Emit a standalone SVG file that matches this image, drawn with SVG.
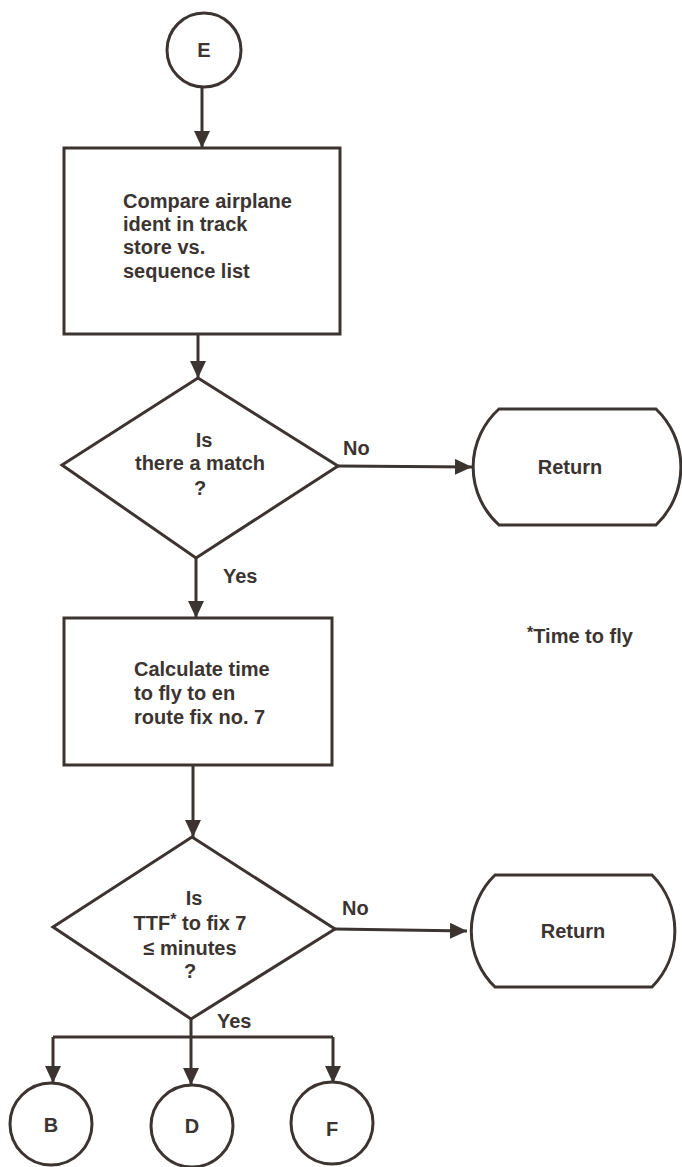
<svg xmlns="http://www.w3.org/2000/svg" width="682" height="1167" viewBox="0 0 682 1167">
  <style>
    .shape { fill: #ffffff; stroke: #3b3431; stroke-width: 3; }
    .wire { fill: none; stroke: #3b3431; stroke-width: 3; }
    text { font-family: "Liberation Sans", Arial, sans-serif; font-weight: bold; font-size: 20px; fill: #3b3431; }
    .mid { text-anchor: middle; }
    .sup { font-size: 16px; }
  </style>
  <defs>
    <marker id="arrow" markerUnits="userSpaceOnUse" markerWidth="18" markerHeight="16" refX="17" refY="8" orient="auto">
      <path d="M0,0 L17,8 L0,16 z" fill="#3b3431"/>
    </marker>
  </defs>
  <rect width="682" height="1167" fill="#ffffff"/>

  <g id="connectors">
    <line class="wire" x1="202" y1="87" x2="202" y2="148" marker-end="url(#arrow)"/>
    <line class="wire" x1="198" y1="334" x2="198" y2="378" marker-end="url(#arrow)"/>
    <line class="wire" x1="338" y1="466" x2="472" y2="467" marker-end="url(#arrow)"/>
    <line class="wire" x1="196" y1="558" x2="196" y2="618" marker-end="url(#arrow)"/>
    <line class="wire" x1="193" y1="765" x2="193" y2="837" marker-end="url(#arrow)"/>
    <line class="wire" x1="335" y1="929" x2="467" y2="931" marker-end="url(#arrow)"/>
    <path class="wire" d="M191,1019 L191,1037 M53,1037 L333,1037"/>
    <line class="wire" x1="53" y1="1037" x2="53" y2="1083" marker-end="url(#arrow)"/>
    <line class="wire" x1="191" y1="1037" x2="191" y2="1085" marker-end="url(#arrow)"/>
    <line class="wire" x1="333" y1="1037" x2="333" y2="1083" marker-end="url(#arrow)"/>
    <text x="343" y="455">No</text>
    <text x="223" y="583">Yes</text>
    <text x="342" y="915">No</text>
    <text x="217" y="1028">Yes</text>
  </g>

  <g id="node-e">
    <circle class="shape" cx="204" cy="50" r="37"/>
    <text class="mid" x="204" y="57">E</text>
  </g>

  <g id="node-compare">
    <rect class="shape" x="64" y="148" width="276" height="186"/>
    <text x="123" y="208">Compare airplane</text>
    <text x="123" y="231">ident in track</text>
    <text x="123" y="254">store vs.</text>
    <text x="123" y="278">sequence list</text>
  </g>

  <g id="node-match">
    <polygon class="shape" points="198,378 338,466 196,558 62,465"/>
    <text class="mid" x="204" y="447">Is</text>
    <text class="mid" x="200" y="470">there a match</text>
    <text class="mid" x="200" y="495">?</text>
  </g>

  <g id="node-return-1">
    <path class="shape" d="M499,409 L656,409 A80,80 0 0 1 656,525 L499,525 A78,78 0 0 1 499,409 z"/>
    <text class="mid" x="570" y="474">Return</text>
  </g>

  <g id="node-calc">
    <rect class="shape" x="64" y="618" width="268" height="147"/>
    <text x="134" y="676">Calculate time</text>
    <text x="134" y="700">to fly to en</text>
    <text x="134" y="724">route fix no. 7</text>
  </g>

  <g id="node-ttf">
    <polygon class="shape" points="192,837 335,929 191,1019 53,927"/>
    <text class="mid" x="194" y="905">Is</text>
    <text class="mid" x="190" y="930">TTF<tspan class="sup" dy="-5">*</tspan><tspan dy="5"> to fix 7</tspan></text>
    <text class="mid" x="190" y="955">≤ minutes</text>
    <text class="mid" x="190" y="978">?</text>
  </g>

  <g id="node-return-2">
    <path class="shape" d="M495,875 L652,875 A80,80 0 0 1 652,987 L495,987 A78,78 0 0 1 495,875 z"/>
    <text class="mid" x="573" y="938">Return</text>
  </g>

  <g id="node-b">
    <circle class="shape" cx="51" cy="1124" r="41"/>
    <text class="mid" x="51" y="1132">B</text>
  </g>
  <g id="node-d">
    <circle class="shape" cx="192" cy="1126" r="41"/>
    <text class="mid" x="192" y="1133">D</text>
  </g>
  <g id="node-f">
    <circle class="shape" cx="332" cy="1123" r="41"/>
    <text class="mid" x="332" y="1136">F</text>
  </g>

  <g id="footnote">
    <text x="527" y="643"><tspan class="sup" dy="-5">*</tspan><tspan dy="5">Time to fly</tspan></text>
  </g>
</svg>
